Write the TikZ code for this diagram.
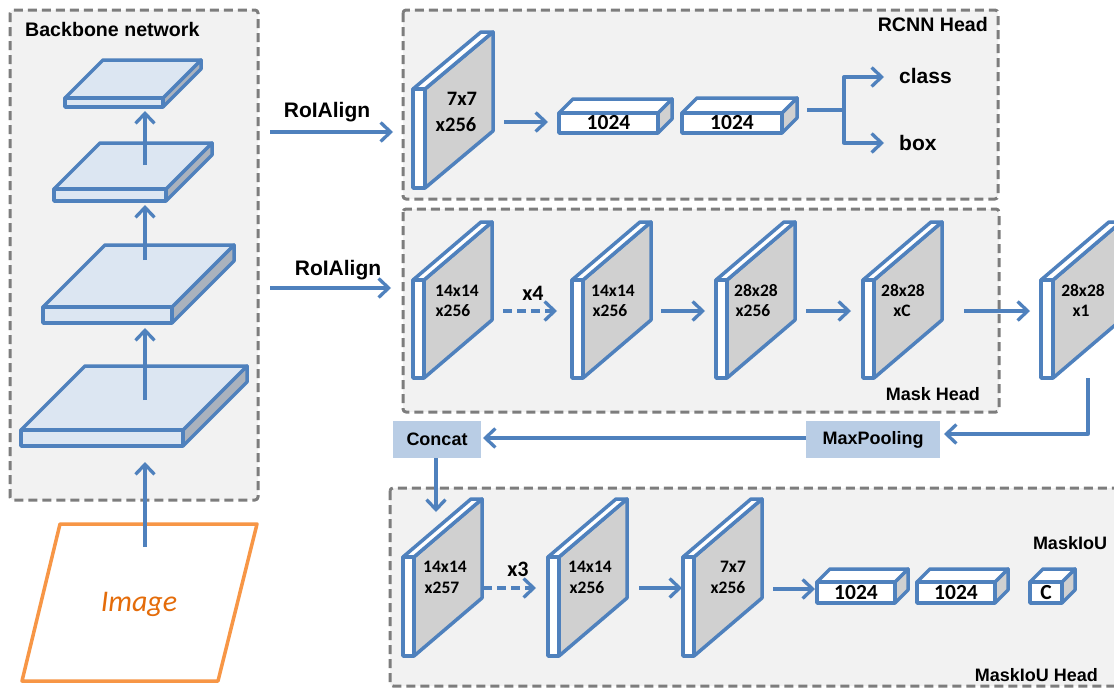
\documentclass[tikz,border=0pt]{standalone}
\usepackage{fontspec}
\setmainfont{Liberation Sans}
\newfontfamily\calfont{Carlito}
\usetikzlibrary{arrows.meta}
\definecolor{lineblue}{RGB}{79,129,189}
\definecolor{bbtop}{RGB}{220,230,242}
\definecolor{bbside}{RGB}{170,178,189}
\definecolor{fmgray}{RGB}{208,208,208}
\definecolor{grpline}{RGB}{125,125,125}
\definecolor{grpfill}{RGB}{242,242,242}
\definecolor{opfill}{RGB}{185,205,229}
\definecolor{imgline}{RGB}{247,150,70}
\definecolor{imgtext}{RGB}{228,108,10}
\tikzset{
  grp/.style={draw=grpline, fill=grpfill, line width=3pt, dash pattern=on 9pt off 5pt, rounded corners=3pt},
  edge3/.style={draw=lineblue, line width=3.5pt},
  conn/.style={draw=lineblue, line width=3.3pt, -{Straight Barb[length=10pt,width=19pt]}},
  dconn/.style={conn, dash pattern=on 9pt off 5pt},
  plain/.style={draw=lineblue, line width=3.3pt},
  title/.style={font=\bfseries\fontsize{19.6}{21}\selectfont, inner sep=0pt},
  optitle/.style={font=\bfseries\fontsize{18}{20}\selectfont, inner sep=0pt},
  lab/.style={font=\calfont\bfseries\fontsize{17.5}{19}\selectfont, inner sep=0pt},
  biglab/.style={font=\calfont\bfseries\fontsize{20.5}{22}\selectfont, inner sep=0pt},
  fclab/.style={font=\calfont\bfseries\fontsize{21.5}{23}\selectfont, inner sep=0pt},
  rep/.style={font=\calfont\bfseries\fontsize{22}{24}\selectfont, inner sep=0pt},
  opbox/.style={fill=opfill, draw=none},
}
% backbone slab: x1,y1,x2,y2,depth
\newcommand{\BSlab}[5]{%
  \filldraw[edge3, fill=bbside] (#3,#2) -- ++(#5,-#5) -- ++(0,{#4-#2}) -- (#3,#4) -- cycle;
  \filldraw[edge3, fill=bbtop] (#1,#2) -- ++(#5,-#5) -- ({#3+#5},{#2-#5}) -- (#3,#2) -- cycle;
  \filldraw[edge3, fill=bbtop] (#1,#2) rectangle (#3,#4);
}
% feature map: x, y, front width, height, dx, dy
\newcommand{\FMap}[6]{%
  \filldraw[edge3, fill=fmgray] ({#1+#3},#2) -- ++(#5,#6) -- ++(0,#4) -- ({#1+#3},{#2+#4}) -- cycle;
  \filldraw[edge3, fill=white] (#1,#2) -- ++(#5,#6) -- ++(#3,0) -- ({#1+#3},#2) -- cycle;
  \filldraw[edge3, fill=white] (#1,#2) rectangle ++(#3,#4);
}
% fc box: name, x1, y1, x2, y2, depth, text
\newcommand{\FCBox}[7]{%
  \filldraw[edge3, fill=fmgray] (#4,#3) -- ++(#6,-#6) -- ++(0,{#5-#3}) -- (#4,#5) -- cycle;
  \filldraw[edge3, fill=white] (#2,#3) -- ++(#6,-#6) -- ({#4+#6},{#3-#6}) -- (#4,#3) -- cycle;
  \filldraw[edge3, fill=white] (#2,#3) rectangle (#4,#5);
  \node[fclab] (#1) at ({(#2+#4)/2},{(#3+#5)/2}) {#7};
}
\begin{document}
\begin{tikzpicture}[x=1pt,y=-1pt,line join=round]
\useasboundingbox (0,0) rectangle (1114,688);
\clip (0,0) rectangle (1114,688);
\fill[white] (0,0) rectangle (1114,688);

% group boxes
\draw[grp] (10,10) rectangle (258,500);
\draw[grp] (403,10) rectangle (998,199);
\draw[grp] (403,209) rectangle (999,412);
\draw[grp] (390,488) rectangle (1135,686);

\node[title, anchor=west] (bbtitle) at (25,29) {Backbone network};
\node[title, anchor=east] (rcnntitle) at (988,24) {RCNN Head};
\node[optitle, anchor=east] (masktitle) at (980,394) {Mask Head};
\node[optitle, anchor=east] (ioutitle) at (1098,675) {MaskIoU Head};
\node[optitle] (ioulab) at (1070,543) {MaskIoU};

% backbone
\BSlab{65}{98}{163}{107}{38}
\BSlab{54}{189}{166}{201}{46}
\BSlab{43}{307}{172}{323}{62}
\BSlab{21}{430}{183}{446}{64}

% image
\draw[draw=imgline, line width=3.5pt] (60,524) -- (257,524) -- (218,681) -- (22,681) -- cycle;
\node[font=\calfont\itshape\fontsize{30}{32}\selectfont, text=imgtext, inner sep=0pt] (imgtxt) at (139,604) {Image};

\coordinate (img-out) at (145,547);
\coordinate (b4-in) at (145,462);
\coordinate (b4-out) at (145,400);
\coordinate (b3-in) at (145,328);
\coordinate (b3-out) at (145,260);
\coordinate (b2-in) at (145,205);
\coordinate (b2-out) at (145,165);
\coordinate (b1-in) at (145,111);
\draw[conn] (img-out) -- (b4-in);
\draw[conn] (b4-out) -- (b3-in);
\draw[conn] (b3-out) -- (b2-in);
\draw[conn] (b2-out) -- (b1-in);

% RoIAlign
\coordinate (roi1-s) at (270,132);
\coordinate (roi1-e) at (393,132);
\coordinate (roi2-s) at (270,288);
\coordinate (roi2-e) at (391,288);
\draw[conn] (roi1-s) -- (roi1-e);
\draw[conn] (roi2-s) -- (roi2-e);
\node[font=\bfseries\fontsize{21}{23}\selectfont, inner sep=0pt] (roi1) at (327,112) {RoIAlign};
\node[font=\bfseries\fontsize{21}{23}\selectfont, inner sep=0pt] (roi2) at (338,270) {RoIAlign};

% RCNN head
\FMap{413}{89}{12}{99}{68}{-57}
\node[biglab] (r1a) at (462,99) {7x7};
\node[biglab] (r1b) at (456,125) {x256};
\FCBox{fc1}{559}{113}{658}{133}{14}{1024}
\FCBox{fc2}{682}{113}{782}{133}{15}{1024}
\coordinate (r1-out) at (504,122);
\coordinate (fc1-in) at (548,122);
\draw[conn] (r1-out) -- (fc1-in);
\coordinate (fc2-out) at (807,110);
\coordinate (br) at (844,110);
\coordinate (cls-in) at (884,77);
\coordinate (box-in) at (884,143);
\draw[plain] (fc2-out) -- (br);
\draw[conn] (br) |- (cls-in);
\draw[conn] (br) |- (box-in);
\node[font=\bfseries\fontsize{21}{23}\selectfont, inner sep=0pt, anchor=west] (cls) at (899,76) {class};
\node[font=\bfseries\fontsize{21}{23}\selectfont, inner sep=0pt, anchor=west] (boxt) at (899,143) {box};

% Mask head
\FMap{413}{280}{11}{98}{68}{-58}
\FMap{572}{280}{11}{98}{68}{-58}
\FMap{716}{280}{11}{98}{68}{-58}
\FMap{863}{280}{11}{98}{68}{-58}
\FMap{1041}{280}{12}{98}{68}{-58}
\node[lab] (m1a) at (457,291) {14x14};
\node[lab] (m1b) at (453,311) {x256};
\node[lab] (m2a) at (613,291) {14x14};
\node[lab] (m2b) at (610,311) {x256};
\node[lab] (m3a) at (756,291) {28x28};
\node[lab] (m3b) at (753,311) {x256};
\node[lab] (m4a) at (903,291) {28x28};
\node[lab] (m4b) at (902,311) {xC};
\node[lab] (m5a) at (1083,291) {28x28};
\node[lab] (m5b) at (1081,311) {x1};
\coordinate (m1-out) at (503,311);
\coordinate (m2-in) at (557,311);
\coordinate (m2-out) at (661,311);
\coordinate (m3-in) at (705,311);
\coordinate (m3-out) at (806,311);
\coordinate (m4-in) at (851,311);
\coordinate (m4-out) at (964,311);
\coordinate (m5-in) at (1030,311);
\draw[dconn] (m1-out) -- (m2-in);
\node[rep] (x4) at (533,293) {x4};
\draw[conn] (m2-out) -- (m3-in);
\draw[conn] (m3-out) -- (m4-in);
\draw[conn] (m4-out) -- (m5-in);

% MaxPooling / Concat
\node[opbox, minimum width=134pt, minimum height=37pt, inner sep=0pt] (mp) at (873,439.5) {};
\node[optitle] (mptxt) at (mp) {MaxPooling};
\node[opbox, minimum width=88pt, minimum height=37pt, inner sep=0pt] (cc) at (437,439.5) {};
\node[optitle] (cctxt) at (cc) {Concat};
\coordinate (m5-bot) at (1088,378);
\coordinate (mp-in) at (944,434);
\draw[conn] (m5-bot) |- (mp-in);
\coordinate (mp-out) at (806,438);
\coordinate (cc-in) at (483,438);
\draw[conn] (mp-out) -- (cc-in);
\coordinate (cc-out) at (436,458);
\coordinate (i1-in) at (436,512);
\draw[conn] (cc-out) -- (i1-in);

% MaskIoU head
\FMap{403}{557}{11}{99}{68}{-58}
\FMap{548}{557}{11}{99}{68}{-58}
\FMap{683}{557}{11}{99}{68}{-58}
\node[lab] (i1a) at (445,567) {14x14};
\node[lab] (i1b) at (442,588) {x257};
\node[lab] (i2a) at (590,567) {14x14};
\node[lab] (i2b) at (587,588) {x256};
\node[lab] (i3a) at (733,567) {7x7};
\node[lab] (i3b) at (728,588) {x256};
\coordinate (i1-out) at (483,588);
\coordinate (i2-in) at (536,588);
\coordinate (i2-out) at (639,588);
\coordinate (i3-in) at (682,588);
\coordinate (i3-out) at (773,589);
\coordinate (f1-in) at (815,589);
\draw[dconn] (i1-out) -- (i2-in);
\node[rep] (x3) at (518,569) {x3};
\draw[conn] (i2-out) -- (i3-in);
\draw[conn] (i3-out) -- (f1-in);
\FCBox{if1}{817}{582}{895}{603}{13}{1024}
\FCBox{if2}{917}{582}{995}{603}{13}{1024}
\FCBox{if3}{1030}{582}{1062}{603}{13}{C}
\end{tikzpicture}
\end{document}
